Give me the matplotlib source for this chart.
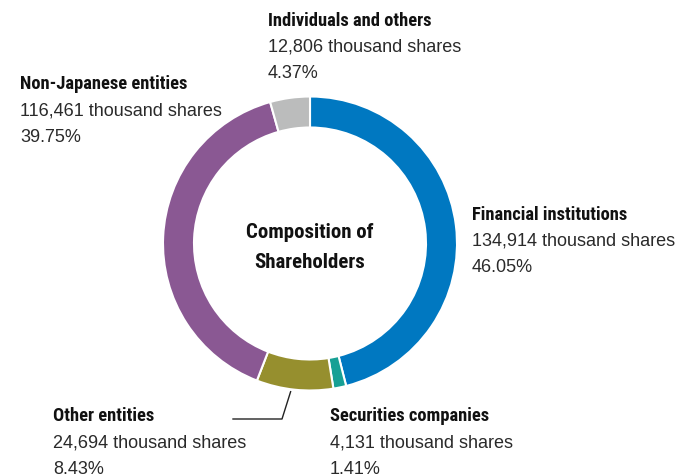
import numpy as np
import matplotlib.pyplot as plt

# Composition of shareholders (thousand shares)
categories = ["Financial institutions", "Securities companies", "Other entities",
              "Non-Japanese entities", "Individuals and others"]
shares = [134914, 4131, 24694, 116461, 12806]
percents = ["46.05%", "1.41%", "8.43%", "39.75%", "4.37%"]
colors = ["#0078c1", "#17a095", "#968f2e", "#8a5893", "#bbbcbc"]

W, H = 678, 476
CX, CY, R, RING = 310, 243.5, 147, 31

bold_font = ["Roboto Condensed", "IBM Plex Sans Condensed", "Fira Sans Condensed", "DejaVu Sans"]
reg_font = ["Liberation Sans", "DejaVu Sans"]

fig = plt.figure(figsize=(W / 100, H / 100), dpi=100)
ax = fig.add_axes([0, 0, 1, 1])


def py(y):
    # pixel row measured from the top
    return H - y


ax.pie(shares, colors=colors, startangle=90, counterclock=False,
       radius=R, center=(CX, py(CY)),
       wedgeprops=dict(width=RING, edgecolor="white", linewidth=1.5))
ax.set_xlim(0, W)
ax.set_ylim(0, H)
ax.set_aspect("equal")
ax.axis("off")

ax.text(CX, py(232), "Composition of", ha="center", va="center",
        fontsize=15, fontweight="bold", family=bold_font, color="#111111")
ax.text(CX, py(262), "Shareholders", ha="center", va="center",
        fontsize=15, fontweight="bold", family=bold_font, color="#111111")

# label block positions (left x, title row y)
label_pos = {
    "Financial institutions": (472, 215),
    "Securities companies": (330, 416),
    "Other entities": (53, 416),
    "Non-Japanese entities": (20, 84),
    "Individuals and others": (268, 21),
}
step = 26.5
for cat, n, pct in zip(categories, shares, percents):
    x, y = label_pos[cat]
    ax.text(x, py(y), cat, ha="left", va="center", fontsize=13.3,
            fontweight="bold", family=bold_font, color="#111111")
    ax.text(x, py(y + step), f"{n:,} thousand shares", ha="left", va="center",
            fontsize=13, family=reg_font, color="#2a2a2a")
    ax.text(x, py(y + 2 * step), pct, ha="left", va="center",
            fontsize=13, family=reg_font, color="#2a2a2a")

# leader line for the "Other entities" slice
total = sum(shares)
mid = (sum(shares[:2]) + shares[2] / 2) / total * 2 * np.pi
lx = CX + R * np.sin(mid) - 4
ly = CY - R * np.cos(mid) + 2
ax.plot([lx, 282, 233], [py(ly), py(419), py(419)], color="#222222", lw=1)

fig.savefig("out.png", dpi=100)
